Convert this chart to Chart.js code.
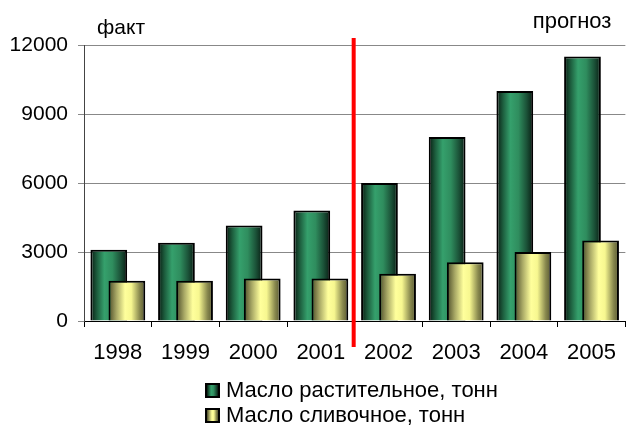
<!DOCTYPE html>
<html>
<head>
<meta charset="utf-8">
<script src="https://cdn.jsdelivr.net/npm/chart.js@4/dist/chart.umd.min.js"></script>
<style>
  body { margin: 0; background: #fff; }
  .wrap { position: relative; width: 629px; height: 426px; }
  .legend {
    position: absolute;
    left: 205px;
    top: 377px;
    font: 22px "Liberation Sans", Arial, sans-serif;
    color: #000;
  }
  .legendRow { height: 25px; line-height: 25px; display: flex; align-items: center; }
  .legendBox {
    width: 11px;
    height: 11px;
    border: 2px solid #000;
    margin-right: 6px;
    margin-top: 2px;
  }
</style>
</head>
<body>
<div class="wrap">
  <canvas id="myChart" width="629" height="426"></canvas>
  <div class="legend" id="legend"></div>
</div>
<script>
const years = ["1998", "1999", "2000", "2001", "2002", "2003", "2004", "2005"];
const vegOil = [3100, 3400, 4150, 4800, 6000, 8000, 10000, 11500];
const butter = [1750, 1750, 1850, 1850, 2050, 2550, 3000, 3500];
const seriesNames = ["Масло растительное, тонн", "Масло сливочное, тонн"];
const factLabel = "факт";
const forecastLabel = "прогноз";
const forecastStart = 4; // index of 2002

const shades = [
  [[0, "#071a10"], [0.18, "#1d5e3e"], [0.38, "#35a06c"], [0.6, "#2f8d5e"], [0.82, "#1b5238"], [1, "#081c12"]],
  [[0, "#4a4a28"], [0.22, "#a9a966"], [0.45, "#ffff9c"], [0.62, "#f7f790"], [0.85, "#88884e"], [1, "#55552f"]],
];
const legendFill = ["#2e8b57", "#ffff99"];

const fontFamily = '"Liberation Sans", Arial, sans-serif';

const shadeBars = (chart, meta, index) => {
  const ctx = chart.ctx;
  meta.data.forEach((bar) => {
    const { x, width } = bar.getProps(["x", "width"], true);
    const g = ctx.createLinearGradient(x - width / 2, 0, x + width / 2, 0);
    shades[index].forEach(([pos, col]) => g.addColorStop(pos, col));
    bar.options = Object.assign({}, bar.options, { backgroundColor: g });
  });
};

// Chart.js paints the last dataset first; here the first series has to sit
// behind the second one, so it is painted by hand before the second series.
const barShade = {
  id: "barShade",
  beforeDatasetDraw(chart, args) {
    if (args.index === 0) return false;
    const back = chart.getDatasetMeta(0);
    shadeBars(chart, back, 0);
    shadeBars(chart, args.meta, args.index);
    back.data.forEach((bar) => bar.draw(chart.ctx, chart.chartArea));
  },
};

const extras = {
  id: "extras",
  afterDraw(chart) {
    const ctx = chart.ctx;
    const area = chart.chartArea;
    const xs = chart.scales.x;
    const splitX =
      (xs.getPixelForValue(forecastStart - 1) + xs.getPixelForValue(forecastStart)) / 2 - 1;
    ctx.save();
    ctx.strokeStyle = "#ff0000";
    ctx.lineWidth = 4;
    ctx.beginPath();
    ctx.moveTo(splitX, area.top - 7);
    ctx.lineTo(splitX, area.bottom + 26);
    ctx.stroke();

    ctx.fillStyle = "#000";
    ctx.textBaseline = "alphabetic";
    ctx.textAlign = "left";
    ctx.font = "21px " + fontFamily;
    ctx.fillText(factLabel, area.left + 13, 34);
    ctx.textAlign = "right";
    ctx.font = "22px " + fontFamily;
    ctx.fillText(forecastLabel, area.right - 14, 28);
    ctx.restore();
  },
};

const data = {
  labels: years,
  datasets: [
    {
      label: seriesNames[0],
      data: vegOil,
      backgroundColor: legendFill[0],
      borderColor: "#000",
      borderWidth: 2,
    },
    {
      label: seriesNames[1],
      data: butter,
      backgroundColor: legendFill[1],
      borderColor: "#000",
      borderWidth: 2,
    },
  ],
};

const config = {
  type: "bar",
  data: data,
  options: {
    responsive: false,
    animation: false,
    categoryPercentage: 0.535,
    barPercentage: 2.03,
    layout: { padding: { top: 45, right: 0, bottom: 60, left: 0 } },
    plugins: {
      legend: { display: false },
      tooltip: { enabled: false },
    },
    scales: {
      x: {
        afterFit: (scale) => {
          scale.height = 45;
        },
        grid: {
          drawOnChartArea: false,
          tickLength: 6,
          color: "#000",
          offset: true,
        },
        border: { color: "#000", width: 1 },
        ticks: {
          color: "#000",
          padding: 13,
          maxRotation: 0,
          font: { family: fontFamily, size: 22 },
        },
      },
      y: {
        min: 0,
        max: 12000,
        afterFit: (scale) => {
          scale.width = 84;
        },
        grid: { color: "#888888", tickLength: 6 },
        border: { color: "#444444", width: 1 },
        ticks: {
          stepSize: 3000,
          color: "#000",
          padding: 10,
          font: { family: fontFamily, size: 21 },
          callback: (value) => String(value),
        },
      },
    },
  },
  plugins: [barShade, extras],
};

const myChart = new Chart(document.getElementById("myChart"), config);

const legendEl = document.getElementById("legend");
seriesNames.forEach((name, i) => {
  const row = document.createElement("div");
  row.className = "legendRow";
  const box = document.createElement("span");
  box.className = "legendBox";
  const stops = shades[i].map(([p, c]) => `${c} ${p * 100}%`).join(", ");
  box.style.background = `linear-gradient(to right, ${stops})`;
  const text = document.createElement("span");
  text.innerText = name;
  row.appendChild(box);
  row.appendChild(text);
  legendEl.appendChild(row);
});
</script>
</body>
</html>
